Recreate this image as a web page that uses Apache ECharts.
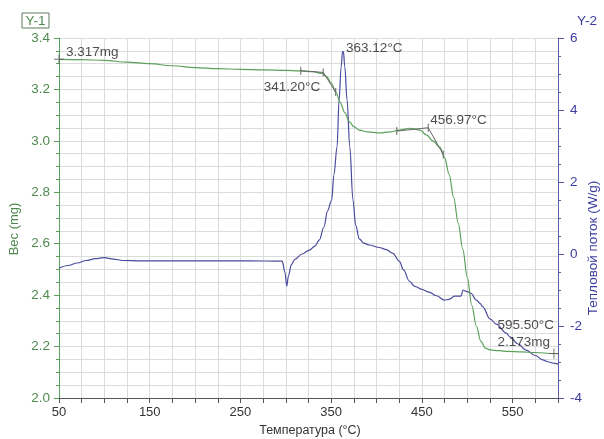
<!DOCTYPE html>
<html><head><meta charset="utf-8">
<script src="https://cdn.jsdelivr.net/npm/echarts@6/dist/echarts.min.js"></script>
<style>html,body{margin:0;padding:0;background:#fff}#c{width:604px;height:439px}</style>
</head><body><div id="c"></div><script>
// ---- data ----
const tgaTemp = [50,75,100,125,150,175,200,225,250,275,300,315,330,340,345,350,355,360,365,370,375,381,390,403,415,425,437,448,455,462,470,475,480,485,490,495,500,505,510,515,520,525,535,545,560,575,595.5,600];
const tgaMass = [3.317,3.316,3.313,3.306,3.300,3.292,3.285,3.281,3.278,3.276,3.274,3.272,3.269,3.262,3.25,3.225,3.19,3.15,3.11,3.075,3.055,3.042,3.035,3.031,3.035,3.042,3.049,3.042,3.023,3.0,2.975,2.935,2.87,2.78,2.68,2.58,2.47,2.36,2.28,2.22,2.194,2.187,2.184,2.181,2.179,2.177,2.173,2.172];
const dscTemp = [50,60,70,80,90,100,110,120,140,200,260,296,299,301,303,306,310,318,326,332,337,342,346,350.6,353,356.5,358.7,361,362.5,363.5,365,367.5,370.5,374,377,381,386,392,403,410,418,425,430,436,442,450,458,466,475,480,486,493,495.3,499,504,510,514,517,525,532,543,547,556,565,575,583,590,596,600];
const dscFlow = [-0.39,-0.32,-0.25,-0.18,-0.13,-0.1,-0.14,-0.18,-0.19,-0.19,-0.19,-0.2,-0.5,-0.89,-0.6,-0.3,-0.15,0.0,0.11,0.22,0.39,0.75,1.2,1.5,2.2,2.98,4.28,5.2,5.62,5.62,5.2,4.28,2.98,1.5,0.8,0.42,0.3,0.25,0.18,0.13,0.02,-0.2,-0.45,-0.75,-0.9,-0.98,-1.06,-1.16,-1.28,-1.26,-1.17,-1.17,-1.0,-1.04,-1.09,-1.28,-1.37,-1.46,-1.8,-1.95,-2.2,-2.3,-2.5,-2.67,-2.82,-2.94,-3.0,-3.04,-3.05];
const tan1Temp = [316.5,341.2,355];
const tan1Mass = [3.273,3.266,3.19];
const tan2Temp = [422.3,456.97,473.5];
const tan2Mass = [3.038,3.051,2.947];
const massNoteTemp = [50,341.2,456.97,595.5,595.5];
const massNoteVal = [3.317,3.266,3.051,2.173,2.173];
const massNoteText = ['3.317mg','341.20°C','456.97°C','595.50°C','2.173mg'];
const flowNoteTemp = [363.12];
const flowNoteVal = [5.67];
const flowNoteText = ['363.12°C'];
const crossTemp = [50,595.5];
const crossMass = [3.317,2.173];
const xLabels = [50,150,250,350,450,550];

// ---- styles ----
const FONT = 'Liberation Sans, Arial, sans-serif';
const GREEN = '#5aa05a', GREEN_T = '#4f8a4f', BLUE = '#4a4a9e', BLUE_T = '#3c3ca0', GRIDC = '#dcdcdc';
const zip = (a,b) => a.map((v,i)=>[v,b[i]]);
const massLabelCfg = [
  {align:'left', offset:[7,-7]},
  {align:'right', offset:[-3,15]},
  {align:'left', offset:[2,-7]},
  {align:'right', offset:[0,-28]},
  {align:'right', offset:[-4,-11]}
];
const chart = echarts.init(document.getElementById('c'), null, {renderer:'canvas'});
chart.setOption({
  animation:false,
  backgroundColor:'#fff',
  textStyle:{fontFamily:FONT},
  grid:{left:59,right:46,top:38,bottom:41},
  xAxis:{type:'value',min:50,max:600,interval:25,
    axisLine:{onZero:false,lineStyle:{color:'#555'}},
    axisTick:{length:5,lineStyle:{color:'#555'}},
    axisLabel:{margin:8,fontSize:13,color:'#333',fontFamily:FONT,
      formatter:v=>xLabels.indexOf(v)>=0?String(v):''},
    splitLine:{show:true,lineStyle:{color:GRIDC}}},
  yAxis:[
    {type:'value',min:2.0,max:3.4,interval:0.2,position:'left',
      axisLine:{show:true,onZero:false,lineStyle:{color:GREEN}},
      axisTick:{show:true,length:5,lineStyle:{color:GREEN}},
      minorTick:{show:true,splitNumber:4,length:3,lineStyle:{color:GREEN}},
      axisLabel:{margin:9,fontSize:13.5,color:GREEN_T,fontFamily:FONT,formatter:v=>v.toFixed(1)},
      splitLine:{show:true,lineStyle:{color:GRIDC}},
      minorSplitLine:{show:true,lineStyle:{color:GRIDC}}},
    {type:'value',min:-4,max:6,interval:2,position:'right',
      axisLine:{show:true,onZero:false,lineStyle:{color:'#5a5aa8'}},
      axisTick:{show:true,length:6,lineStyle:{color:'#5a5aa8'}},
      minorTick:{show:true,splitNumber:4,length:3,lineStyle:{color:'#5a5aa8'}},
      axisLabel:{margin:12,fontSize:13.5,color:BLUE_T,fontFamily:FONT},
      splitLine:{show:false}}
  ],
  series:[
    {type:'line',yAxisIndex:1,data:zip(dscTemp,dscFlow),showSymbol:false,smooth:0.35,smoothMonotone:'x',
      lineStyle:{color:BLUE,width:1.2},z:3},
    {type:'line',yAxisIndex:0,data:zip(tgaTemp,tgaMass),showSymbol:false,smooth:0.35,smoothMonotone:'x',
      lineStyle:{color:GREEN,width:1.2},z:4},
    ...[[tan1Temp,tan1Mass],[tan2Temp,tan2Mass]].map(([t,m])=>({
      type:'line',yAxisIndex:0,data:zip(t,m),symbol:'rect',symbolSize:[1,8],showSymbol:true,
      itemStyle:{color:'#666'},lineStyle:{color:'#666',width:1},z:5})),
    {type:'scatter',yAxisIndex:0,data:zip(crossTemp,crossMass),
      symbol:'path://M0,4.5H10V5.5H0Z M4.5,0H5.5V10H4.5Z',symbolSize:10,itemStyle:{color:'#555'},z:6},
    {type:'scatter',yAxisIndex:0,symbolSize:0,z:7,
      data:massNoteTemp.map((t,i)=>({value:[t,massNoteVal[i]],
        label:{show:true,position:'inside',verticalAlign:'middle',align:massLabelCfg[i].align,offset:massLabelCfg[i].offset,
          formatter:massNoteText[i],color:'#222',fontSize:13.5,fontFamily:FONT}}))},
    {type:'scatter',yAxisIndex:1,symbolSize:0,z:7,
      data:flowNoteTemp.map((t,i)=>({value:[t,flowNoteVal[i]],
        label:{show:true,position:'inside',verticalAlign:'middle',align:'left',offset:[3,-2],
          formatter:flowNoteText[i],color:'#222',fontSize:13.5,fontFamily:FONT}}))}
  ],
  graphic:[
    {type:'rect',shape:{x:22,y:13,width:27,height:15},style:{fill:'none',stroke:'#5d7a5d',lineWidth:1}},
    {type:'text',x:35.5,y:21,style:{text:'Y-1',fill:GREEN_T,font:'13.5px '+FONT,textAlign:'center',textVerticalAlign:'middle'}},
    {type:'text',x:587,y:21,style:{text:'Y-2',fill:BLUE_T,font:'13.5px '+FONT,textAlign:'center',textVerticalAlign:'middle'}},
    {type:'text',x:14,y:229,rotation:Math.PI/2,style:{text:'Вес (mg)',fill:GREEN_T,font:'13px '+FONT,textAlign:'center',textVerticalAlign:'middle'}},
    {type:'text',x:593,y:248,rotation:Math.PI/2,style:{text:'Тепловой поток (W/g)',fill:BLUE_T,font:'13.5px '+FONT,textAlign:'center',textVerticalAlign:'middle'}},
    {type:'text',x:310,y:431,style:{text:'Температура (°C)',fill:'#333',font:'12.5px '+FONT,textAlign:'center',textVerticalAlign:'middle'}}
  ]
});
</script></body></html>
